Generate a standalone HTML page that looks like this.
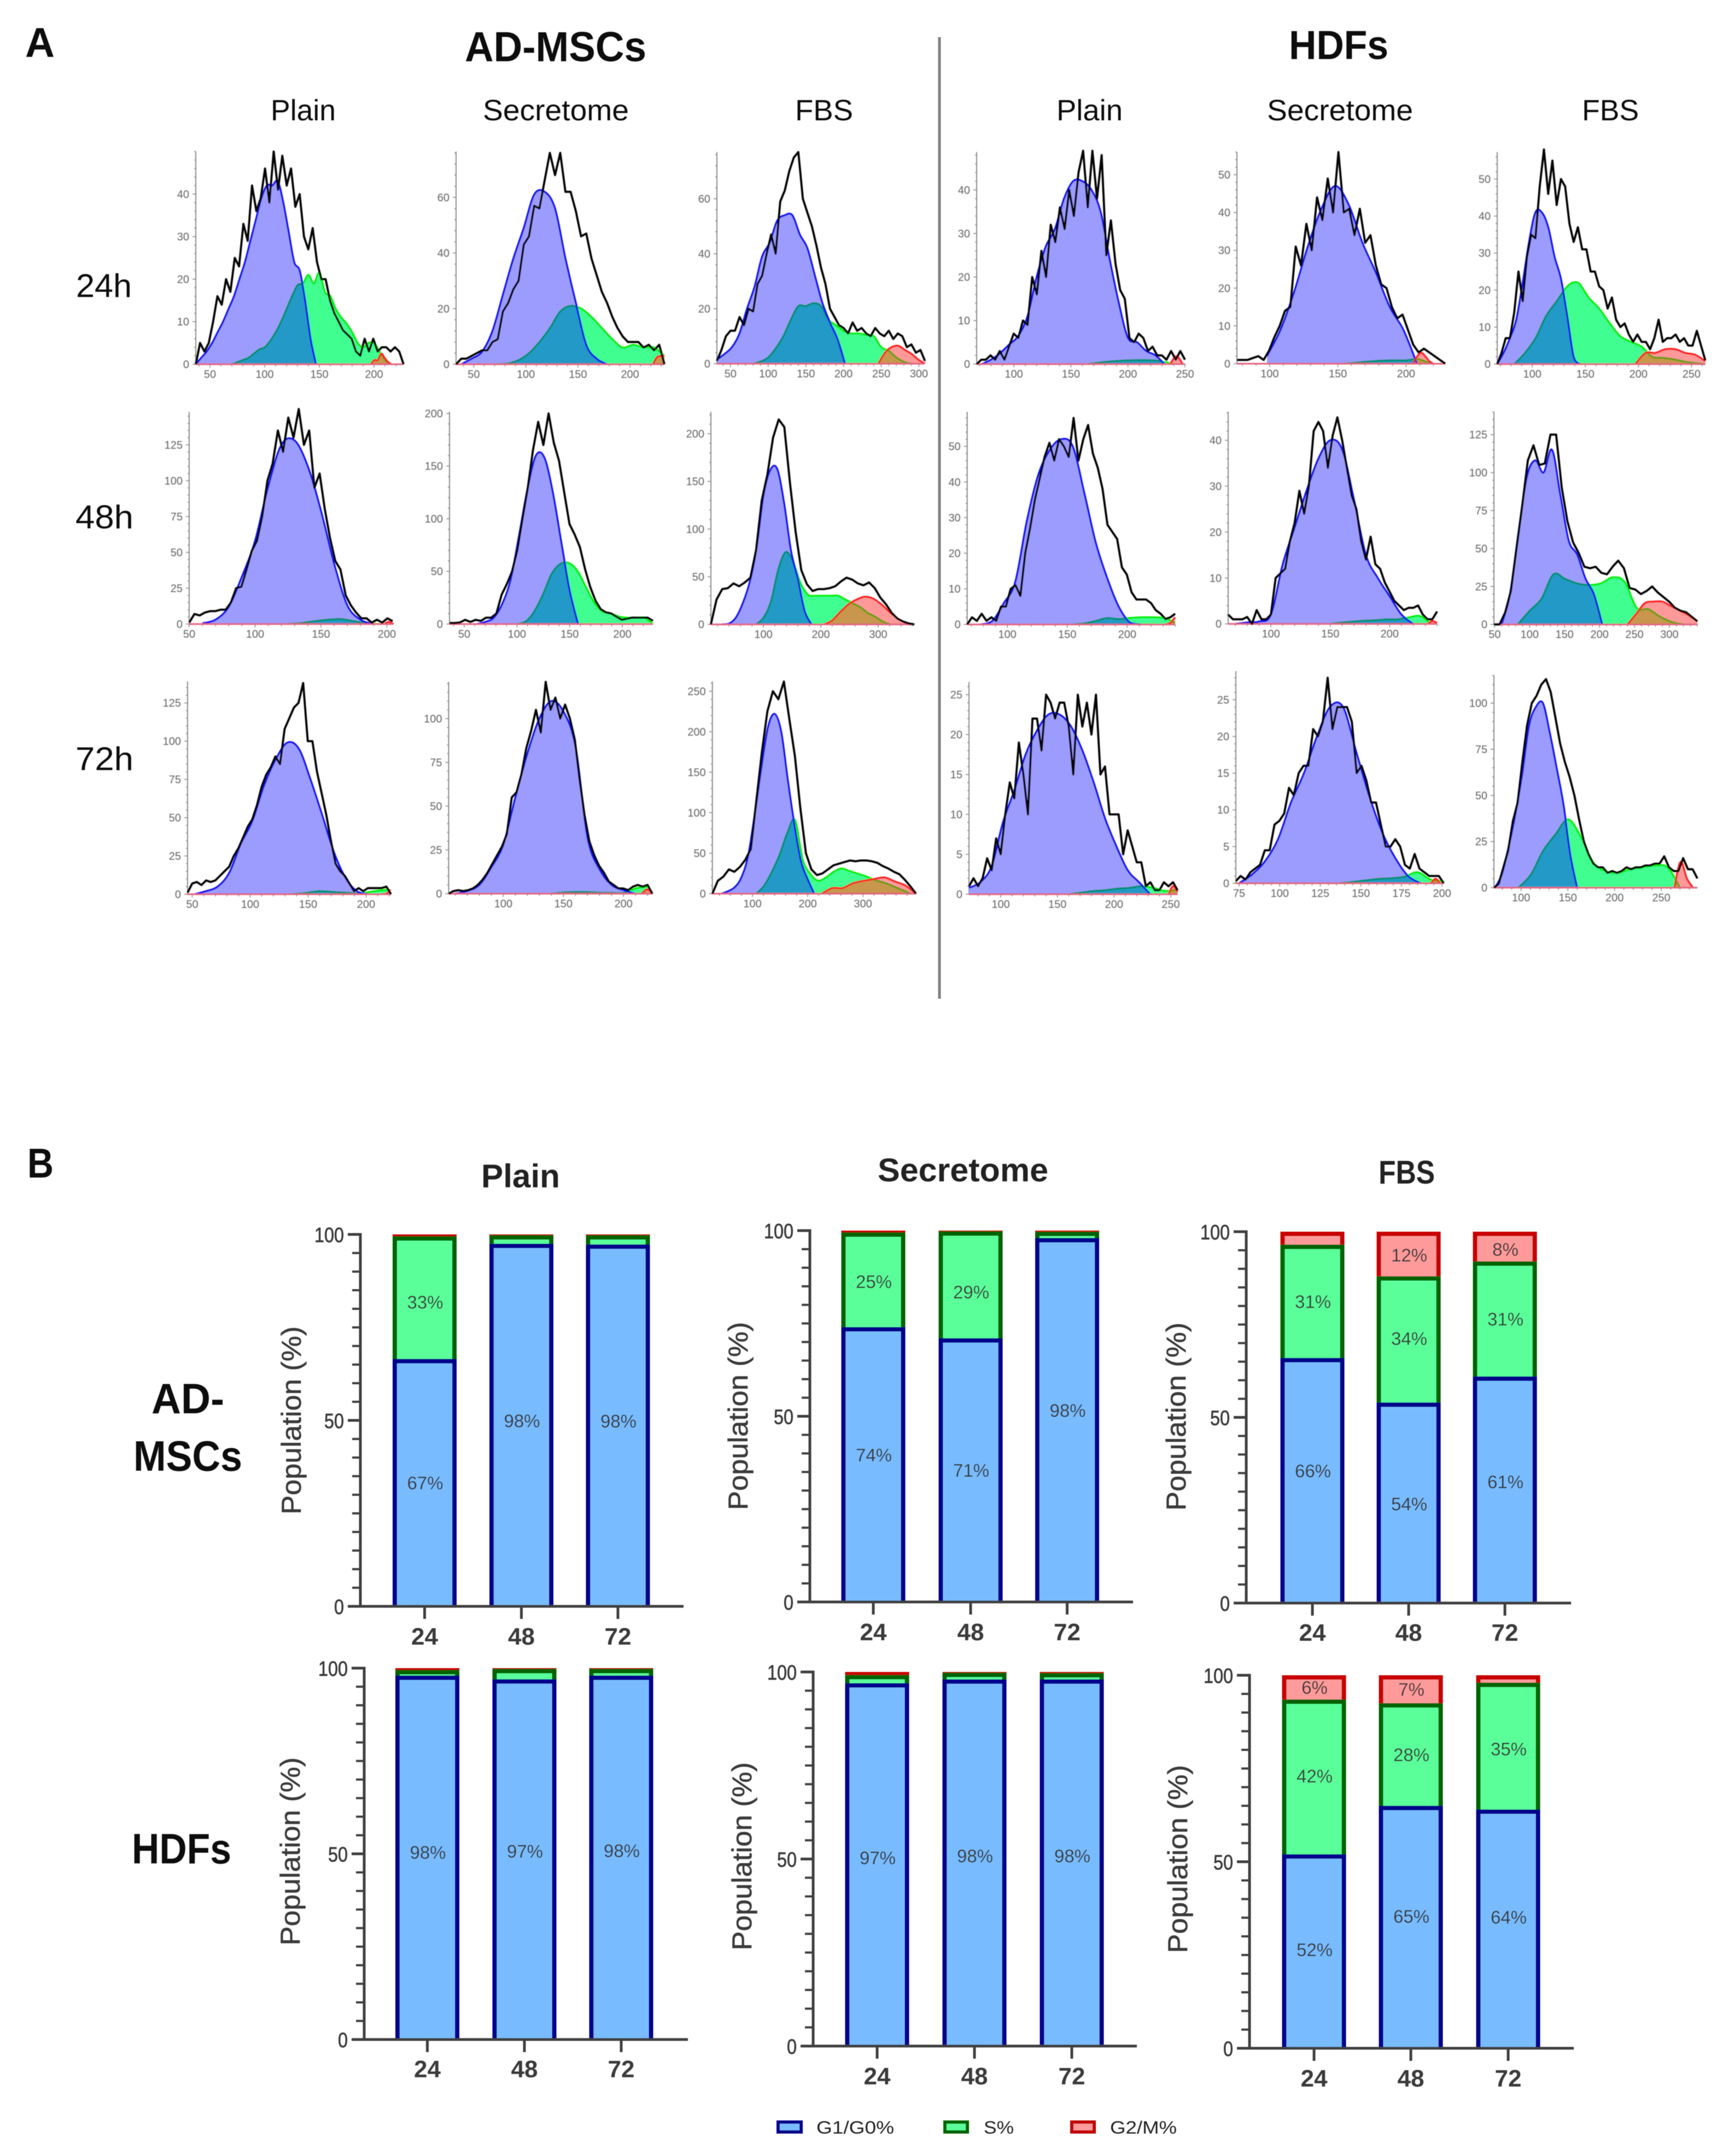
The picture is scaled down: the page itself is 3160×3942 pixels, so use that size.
<!DOCTYPE html>
<html lang="en">
<head>
<meta charset="utf-8">
<title>Cell cycle analysis of AD-MSCs and HDFs</title>
<style>
html,body{margin:0;padding:0;background:#fff;}
svg{display:block;}
text{font-family:"Liberation Sans",sans-serif;}
</style>
</head>
<body>
<svg id="figure" xmlns="http://www.w3.org/2000/svg" width="3160" height="3942" viewBox="0 0 3160 3942">
<defs>
<filter id="soft" x="-5%" y="-5%" width="110%" height="110%"><feGaussianBlur stdDeviation="0.9"/></filter>
<filter id="softer" x="-5%" y="-5%" width="110%" height="110%"><feGaussianBlur stdDeviation="0.6"/></filter>
</defs>
<rect width="3160" height="3942" fill="#fff"/>
<g filter="url(#softer)" fill="#111">
<text x="46" y="104" font-size="76" font-weight="700" textLength="54" lengthAdjust="spacingAndGlyphs">A</text>
<text x="50" y="2153" font-size="76" font-weight="700" textLength="48" lengthAdjust="spacingAndGlyphs">B</text>
<text x="850" y="112" font-size="77" font-weight="700" textLength="332" lengthAdjust="spacingAndGlyphs">AD-MSCs</text>
<text x="2357" y="108" font-size="74" font-weight="700" textLength="182" lengthAdjust="spacingAndGlyphs">HDFs</text>
<text x="495" y="220" font-size="54" textLength="119" lengthAdjust="spacingAndGlyphs">Plain</text>
<text x="883" y="220" font-size="54" textLength="267" lengthAdjust="spacingAndGlyphs">Secretome</text>
<text x="1454" y="220" font-size="54" textLength="106" lengthAdjust="spacingAndGlyphs">FBS</text>
<text x="1932" y="220" font-size="54" textLength="121" lengthAdjust="spacingAndGlyphs">Plain</text>
<text x="2317" y="220" font-size="54" textLength="267" lengthAdjust="spacingAndGlyphs">Secretome</text>
<text x="2893" y="220" font-size="54" textLength="104" lengthAdjust="spacingAndGlyphs">FBS</text>
<text x="139" y="543" font-size="60" textLength="102" lengthAdjust="spacingAndGlyphs">24h</text>
<text x="138" y="966" font-size="60" textLength="106" lengthAdjust="spacingAndGlyphs">48h</text>
<text x="138" y="1408" font-size="60" textLength="106" lengthAdjust="spacingAndGlyphs">72h</text>
<text x="880" y="2171" font-size="60" font-weight="700" fill="#222" textLength="144" lengthAdjust="spacingAndGlyphs">Plain</text>
<text x="1605" y="2160" font-size="60" font-weight="700" fill="#222" textLength="312" lengthAdjust="spacingAndGlyphs">Secretome</text>
<text x="2521" y="2164" font-size="60" font-weight="700" fill="#222" textLength="103" lengthAdjust="spacingAndGlyphs">FBS</text>
<text x="277" y="2584" font-size="78" font-weight="700" textLength="133" lengthAdjust="spacingAndGlyphs">AD-</text>
<text x="244" y="2689" font-size="78" font-weight="700" textLength="199" lengthAdjust="spacingAndGlyphs">MSCs</text>
<text x="241" y="3407" font-size="78" font-weight="700" textLength="182" lengthAdjust="spacingAndGlyphs">HDFs</text>
</g>
<rect x="1715.5" y="68" width="5" height="1758" fill="#808080"/>
<g id="histograms"></g>
<g id="bars"></g>
<g filter="url(#softer)">
<g>
<rect x="1423" y="3880" width="42" height="18" fill="#78bcff" stroke="#00008b" stroke-width="6"/>
<text x="1493" y="3901" font-size="32" fill="#222" textLength="142" lengthAdjust="spacingAndGlyphs">G1/G0%</text>
</g>
<g>
<rect x="1728" y="3880" width="41" height="18" fill="#5aff9a" stroke="#006400" stroke-width="6"/>
<text x="1799" y="3901" font-size="32" fill="#222" textLength="55" lengthAdjust="spacingAndGlyphs">S%</text>
</g>
<g>
<rect x="1960" y="3880" width="41" height="18" fill="#ff9a9a" stroke="#c00000" stroke-width="6"/>
<text x="2030" y="3901" font-size="32" fill="#222" textLength="122" lengthAdjust="spacingAndGlyphs">G2/M%</text>
</g>
</g>
</svg>
<script>
// ===== Panel A histogram data (cell counts) =====
const adPlain24Total=[0,5,3,5,10,16,14,20,17,25,23,33,29,42,36,39,46,38,50,41,49,42,46,37,40,30,27,32,24,20,20,15,12,10,8,7,6,3,2,6,3,6,3,4,4,3,4,3,0];
const adPlain24G1=[0,1.5,3,5,7.5,10,13,16,20,24,29,34,39,42,42,43,38,31,24,22,15,6,0];
const adPlain24G1Span=[37,147];
const adPlain24S=[0,.5,1,1.5,2.5,3.5,4,5.5,7.5,10,13,16,18.6,19,21,19,21.5,17,16,13,11,9.5,7.5,5,4,5,5,3,1,0];
const adPlain24SSpan=[70,215];
const adPlain24G2=[0,1,1,2.5,1.5,.5,0];
const adPlain24G2Span=[197,216];

const adSec24Total=[0,2,2,3,4,5,5,8,9,19,22,27,30,43,46,57,56,66,76,68,76,62,62,55,46,47,38,32,26,22,17,13,10,8,8,8,6,7,5,7,0];
const adSec24G1=[0,2,4.5,12,25,38,49,61,62,56,38,22,7,2,0];
const adSec24G1Span=[38,178];
const adSec24S=[0,.3,1.5,4,8,13,19,21,20,17,13,9,6,7,6,6,3];
const adSec24SSpan=[73,233];
const adSec24G2=[0,2.5,3,3];
const adSec24G2Span=[222,233];

const adFbs24Total=[1,5,10,12,12,17,14,20,19,29,32,40,47,40,59,63,70,75,77,60,55,50,43,35,29,20,17,14,13,11,15,12,13,11,10,13,11,10,12,9,11,10,6,7,4,5,1];
const adFbs24G1=[1.5,3.5,6,11,20,28,39,44,52,54,54,47,42,32,22,15,9,0];
const adFbs24G1Span=[32,202];
const adFbs24S=[0,.8,2.3,5.6,10,16,21,21,22,21,16,14,12,11,11,10.5,10,6,4.7,2.3,.7,0];
const adFbs24SSpan=[80,290];
const adFbs24G2=[0,4,6,6.5,5,3.5,1.5,0];
const adFbs24G2Span=[246,308];

const hdfPlain24Total=[0,1,1,2,1,3,1,4,7,6,10,9,20,16,26,20,32,28,36,31,40,34,44,49,36,49,38,48,25,33,23,17,15,6,5,7,6,3,4,2,2,1,3,1,3,1];
const hdfPlain24G1=[0,1,2.5,4.5,6.5,11,20,27,31,38,42,42,40,35,24,14,6,5,3,2,0];
const hdfPlain24G1Span=[72,232];
const hdfPlain24S=[0,.5,.8,.9,.8,0];
const hdfPlain24SSpan=[165,240];
const hdfPlain24G2=[0,1.8,0];
const hdfPlain24G2Span=[237,248];

const hdfSec24Total=[1,1,1,1.5,2,1,3.4,7,10,14,15,31,26,37,30,44,38,49,40,56,40,41,34,41,32,34,26,21,20,15,12,13,9,5,3,4,3,2,1,0];
const hdfSec24G1=[2,9,19,31,41,47,42,32,24,15,9,0];
const hdfSec24G1Span=[98,208];
const hdfSec24S=[0,.3,.6,.8,.9,.9,1.2,0];
const hdfSec24SSpan=[155,218];
const hdfSec24G2=[0,1.8,2.9,2,.7,0];
const hdfSec24G2Span=[205,220];

const hdfFbs24Total=[0,3,7,7,14,25,17,29,35,34,48,58,46,55,43,50,48,38,33,37,31,31,25,25,21,20,15,18,12,10,11,8,6,8,6,6,4,7,12,6,7,7,8,6,7,5,5,9,5,1];
const hdfFbs24G1=[0,3,7,12,22,33,41,41,37,29,23,13,2,0];
const hdfFbs24G1Span=[67,145];
const hdfFbs24S=[0,3,7,13,17,21,22,18,15,11,7.5,6,4.7,2,1.7,1.3,.7,.3,0];
const hdfFbs24SSpan=[83,263];
const hdfFbs24G2=[0,3,3,4,4,3,2.5,.8];
const hdfFbs24G2Span=[197,263];

const adPlain48Total=[1,7,6,8,9,9,10,10,15,25,26,38,51,58,75,100,112,135,120,144,130,150,125,135,95,105,80,60,44,38,20,13,8,4,4,1,3,1,4,2];
const adPlain48G1=[.5,3,12,33,58,96,125,128,110,79,42,13,3,0];
const adPlain48G1Span=[60,190];
const adPlain48S=[0,.7,2,3,3.5,2,.6,0];
const adPlain48SSpan=[125,195];
const adPlain48G2=[0,1.5,0];
const adPlain48G2Span=[198,205];

const adSec48Total=[1,1,1.5,4,2,4,3,6,6,10,28,38,50,70,100,129,165,192,170,200,172,155,125,95,85,73,52,35,22,14,11,10,7,4,5,6,6,6,6,3];
const adSec48G1=[0,2,6,19,42,84,128,160,158,125,78,32,0];
const adSec48G1Span=[62,158];
const adSec48S=[0,3,13,29,48,57,58,51,36,21,12,10,7,6,6,6,0];
const adSec48SSpan=[101,229];
const adSec48G2=[];
const adSec48G2Span=[229,229];

const adFbs48Total=[0,26,37,38,43,40,44,49,78,130,157,196,215,207,148,97,57,42,35,37,37,38,40,45,49,47,43,41,44,38,28,21,12,6,3,1,0];
const adFbs48G1=[0,.8,7,22,44,80,135,162,163,127,77,48,14,0];
const adFbs48G1Span=[28,184];
const adFbs48S=[0,7,24,58,76,65,43,31,30,30,30,30,26,22,18,12,8,3,0];
const adFbs48SSpan=[87,321];
const adFbs48G2=[0,4,13,21,26,29,27,21,13,6,1.5,0];
const adFbs48G2Span=[205,363];

const hdfPlain48Total=[0,2,1,3,1,2,1,5,5,10,11,8,20,27,35,41,47,51,46,52,50,47,58,46,52,56,48,44,38,28,26,24,16,14,9,7,7,7,6,4,3,1.5,2,3];
const hdfPlain48G1=[0,1,6,12,29,42,49,52,50,37,23,13,5,.5,0];
const hdfPlain48G1Span=[78,212];
const hdfPlain48S=[0,.3,1,1.8,1.5,1.8,2,2,1.8,.5];
const hdfPlain48SSpan=[155,240];
const hdfPlain48G2=[0,.5,2];
const hdfPlain48G2Span=[232,240];

const hdfSec48Total=[2,1,1,1,1.5,0,3,1,1,2,10,11,12,18,22,29,24,30,42,44,42,34,41,45,40,34,28,25,18,14,19,13,12,9,7,5,4,3,3.5,3.5,4,2,1,1,2.7];
const hdfSec48G1=[0,.3,.5,2,13,21,29,36,40,38,27,15,10,6,2,0];
const hdfSec48G1Span=[70,220];
const hdfSec48S=[0,.3,.5,.7,.8,1,1,1.4,1.7,0];
const hdfSec48SSpan=[150,235];
const hdfSec48G2=[0,.6,.2];
const hdfSec48G2Span=[232,240];

const hdfFbs48Total=[0,0,8,22,50,78,108,118,105,106,125,125,90,68,54,47,38,37,38,34,33,38,42,37,24,23,20,22,25,21,18,15,11,9,8,5,2];
const hdfFbs48G1=[0,20,60,97,108,100,115,85,55,46,30,20,0];
const hdfFbs48G1Span=[60,204];
const hdfFbs48S=[0,9,17,33,30,27,26,27,31,28,11,10,5,1.5,0];
const hdfFbs48SSpan=[83,321];
const hdfFbs48G2=[0,7,14,15,15,12,9,6,2];
const hdfFbs48G2Span=[240,340];

const adPlain72Total=[1,7,8,6,9,8,9,12,15,18,25,30,37,44,49,58,70,78,83,90,85,108,115,122,125,138,100,100,80,66,52,35,20,15,12,7,2,4,2,4,4,4,4,5,0];
const adPlain72G1=[0,2,5,14,33,48,71,88,99,95,75,52,28,11,2,0];
const adPlain72G1Span=[52,202];
const adPlain72S=[0,.7,2,1.5,1,.5,2,3];
const adPlain72SSpan=[135,219];
const adPlain72G2=[0,.5,3];
const adPlain72G2Span=[214,221];

const adSec72Total=[0,1.5,2,1.5,2,3,5,8,12,17,22,27,34,55,58,68,83,93,105,92,121,105,112,100,108,100,88,65,45,30,22,16,12,7,5,3,3,2,4,5,4,5,0];
const adSec72G1=[0,1.5,5,15,28,55,80,100,110,104,84,32,14,5,2,0];
const adSec72G1Span=[60,210];
const adSec72S=[0,.7,1,.9,.6,.5,.5,3,4];
const adSec72SSpan=[140,220];
const adSec72G2=[0,2.5,0];
const adSec72G2Span=[215,224];

const adFbs72Total=[0,16,21,30,27,33,42,55,115,175,225,250,240,262,215,170,105,50,30,23,25,30,35,37,39,41,40,41,41,40,38,34,31,27,24,17,9,0];
const adFbs72G1=[0,3,8,20,46,97,155,205,222,200,140,85,40,18,0];
const adFbs72G1Span=[44,212];
const adFbs72S=[0,10,27,48,75,91,42,24,16,20,27,31,28,25,22,18,15,12,8,4,0];
const adFbs72SSpan=[107,387];
const adFbs72G2=[0,7,7,13,16,18,20,15,10,0];
const adFbs72G2Span=[225,396];

const hdfPlain72Total=[1,2,1,2,4.5,3,7,5,10,14,12,19,15,10,22,22,18,25,24,22,24,24,21,15,25,21,24,20,25,15,16,10,10,10,5,8,6,4,4,1,1.5,.5,.5,1.5,1,1.5,.5];
const hdfPlain72G1=[.8,1.5,3.5,9,13,17.5,20.5,22.5,22.5,21,18,14,9.5,6,3,1.5,0];
const hdfPlain72G1Span=[72,232];
const hdfPlain72S=[0,.2,.4,.5,.7,.8,1,.8,.4,.6];
const hdfPlain72SSpan=[160,256];
const hdfPlain72G2=[0,1,.3];
const hdfPlain72G2Span=[248,256];

const hdfSec72Total=[.3,1,.5,1.5,2,2.5,4.5,4.5,8,8.5,9.5,13,12,15,16,16,21,20,22,28,21,24,24,24,22,15,16,14,11,11,8,5,5,6,5,2.5,2,4,2,1.5,1,1,1,0];
const hdfSec72G1=[0,1.2,3,6,11,15,20,24,24,18,12,7,3.5,1,0];
const hdfSec72G1Span=[75,187];
const hdfSec72S=[0,.2,.4,.6,.7,.9,1.5,.5,.3];
const hdfSec72SSpan=[137,201];
const hdfSec72G2=[0,.6,0];
const hdfSec72G2Span=[193,199];

const hdfFbs72Total=[0,2,11,20,36,46,68,88,100,104,110,113,106,92,78,68,60,50,37,25,18,13,11,11,8,9,8,9,11,10,11,11,12,12,13,13,17,11,9,9,16,10,10,5];
const hdfFbs72G1=[0,7,22,40,62,88,98,100,84,65,45,18,0];
const hdfFbs72G1Span=[72,160];
const hdfFbs72S=[0,7,20,29,37,28,14,9,8,10,11,12,11,0];
const hdfFbs72SSpan=[97,270];
const hdfFbs72G2=[0,14,5,0];
const hdfFbs72G2Span=[264,284];

// ===== Panel A axis tick labels =====
const ticksX50to200=[50,100,150,200];
const ticksX50to300=[50,100,150,200,250,300];
const ticksX100to250=[100,150,200,250];
const ticksX100to200=[100,150,200];
const ticksX100to300=[100,200,300];
const ticksX50to300b=[50,100,150,200,250,300];
const ticksX75to200=[75,100,125,150,175,200];
const ticksY10=[0,10,20,30,40];
const ticksY10to50=[0,10,20,30,40,50];
const ticksY20=[0,20,40,60];
const ticksY25to125=[0,25,50,75,100,125];
const ticksY25to100=[0,25,50,75,100];
const ticksY50to200=[0,50,100,150,200];
const ticksY50to250=[0,50,100,150,200,250];
const ticksY5to25=[0,5,10,15,20,25];

const panels=[
{n:'ad-plain-24h',l:358,r:738,b:666,t:277,x0:37,x1:227,yM:50,xT:ticksX50to200,yT:ticksY10,tot:adPlain24Total,g1:adPlain24G1,g1S:adPlain24G1Span,s:adPlain24S,sS:adPlain24SSpan,g2:adPlain24G2,g2S:adPlain24G2Span},
{n:'ad-secretome-24h',l:834,r:1215,b:666,t:277,x0:33,x1:233,yM:76.5,xT:ticksX50to200,yT:ticksY20,tot:adSec24Total,g1:adSec24G1,g1S:adSec24G1Span,s:adSec24S,sS:adSec24SSpan,g2:adSec24G2,g2S:adSec24G2Span},
{n:'ad-fbs-24h',l:1311,r:1691.5,b:665,t:278,x0:32,x1:308,yM:77,xT:ticksX50to300,yT:ticksY20,tot:adFbs24Total,g1:adFbs24G1,g1S:adFbs24G1Span,s:adFbs24S,sS:adFbs24SSpan,g2:adFbs24G2,g2S:adFbs24G2Span},
{n:'hdf-plain-24h',l:1786,r:2167,b:665.7,t:278,x0:67.4,x1:250,yM:48.7,xT:ticksX100to250,yT:ticksY10,tot:hdfPlain24Total,g1:hdfPlain24G1,g1S:hdfPlain24G1Span,s:hdfPlain24S,sS:hdfPlain24SSpan,g2:hdfPlain24G2,g2S:hdfPlain24G2Span},
{n:'hdf-secretome-24h',l:2262,r:2643,b:665,t:278,x0:76,x1:228.8,yM:56,xT:ticksX100to200,yT:ticksY10to50,tot:hdfSec24Total,g1:hdfSec24G1,g1S:hdfSec24G1Span,s:hdfSec24S,sS:hdfSec24SSpan,g2:hdfSec24G2,g2S:hdfSec24G2Span},
{n:'hdf-fbs-24h',l:2738,r:3118.5,b:665.7,t:278,x0:67,x1:263,yM:57.3,xT:ticksX100to250,yT:ticksY10to50,tot:hdfFbs24Total,g1:hdfFbs24G1,g1S:hdfFbs24G1Span,s:hdfFbs24S,sS:hdfFbs24SSpan,g2:hdfFbs24G2,g2S:hdfFbs24G2Span},
{n:'ad-plain-48h',l:346,r:718,b:1141,t:753,x0:50,x1:204.4,yM:148,xT:ticksX50to200,yT:ticksY25to125,tot:adPlain48Total,g1:adPlain48G1,g1S:adPlain48G1Span,s:adPlain48S,sS:adPlain48SSpan,g2:adPlain48G2,g2S:adPlain48G2Span},
{n:'ad-secretome-48h',l:822,r:1194,b:1141,t:753,x0:36,x1:229,yM:201.5,xT:ticksX50to200,yT:ticksY50to200,tot:adSec48Total,g1:adSec48G1,g1S:adSec48G1Span,s:adSec48S,sS:adSec48SSpan,g2:adSec48G2,g2S:adSec48G2Span},
{n:'ad-fbs-48h',l:1300,r:1672,b:1141.6,t:753,x0:8.4,x1:363,yM:223,xT:ticksX100to300,yT:ticksY50to200,tot:adFbs48Total,g1:adFbs48G1,g1S:adFbs48G1Span,s:adFbs48S,sS:adFbs48SSpan,g2:adFbs48G2,g2S:adFbs48G2Span},
{n:'hdf-plain-48h',l:1768.7,r:2149,b:1141.7,t:753,x0:66.5,x1:240,yM:59.7,xT:ticksX100to200,yT:ticksY10to50,tot:hdfPlain48Total,g1:hdfPlain48G1,g1S:hdfPlain48G1Span,s:hdfPlain48S,sS:hdfPlain48SSpan,g2:hdfPlain48G2,g2S:hdfPlain48G2Span},
{n:'hdf-secretome-48h',l:2246,r:2628,b:1140.7,t:753,x0:64,x1:240,yM:46.2,xT:ticksX100to200,yT:ticksY10,tot:hdfSec48Total,g1:hdfSec48G1,g1S:hdfSec48G1Span,s:hdfSec48S,sS:hdfSec48SSpan,g2:hdfSec48G2,g2S:hdfSec48G2Span},
{n:'hdf-fbs-48h',l:2732,r:3104,b:1141.7,t:753,x0:49,x1:340,yM:140,xT:ticksX50to300b,yT:ticksY25to125,tot:hdfFbs48Total,g1:hdfFbs48G1,g1S:hdfFbs48G1Span,s:hdfFbs48S,sS:hdfFbs48SSpan,g2:hdfFbs48G2,g2S:hdfFbs48G2Span},
{n:'ad-plain-72h',l:343,r:715,b:1635,t:1246,x0:46,x1:221.5,yM:139,xT:ticksX50to200,yT:ticksY25to125,tot:adPlain72Total,g1:adPlain72G1,g1S:adPlain72G1Span,s:adPlain72S,sS:adPlain72SSpan,g2:adPlain72G2,g2S:adPlain72G2Span},
{n:'ad-secretome-72h',l:820.5,r:1193,b:1634,t:1246.7,x0:54.5,x1:224,yM:121,xT:ticksX100to200,yT:ticksY25to100,tot:adSec72Total,g1:adSec72G1,g1S:adSec72G1Span,s:adSec72S,sS:adSec72SSpan,g2:adSec72G2,g2S:adSec72G2Span},
{n:'ad-fbs-72h',l:1302.7,r:1675,b:1634,t:1246,x0:27.4,x1:396,yM:262,xT:ticksX100to300,yT:ticksY50to250,tot:adFbs72Total,g1:adFbs72G1,g1S:adFbs72G1Span,s:adFbs72S,sS:adFbs72SSpan,g2:adFbs72G2,g2S:adFbs72G2Span},
{n:'hdf-plain-72h',l:1772,r:2153.4,b:1635,t:1246.7,x0:72,x1:256,yM:26.6,xT:ticksX100to250,yT:ticksY5to25,tot:hdfPlain72Total,g1:hdfPlain72G1,g1S:hdfPlain72G1Span,s:hdfPlain72S,sS:hdfPlain72SSpan,g2:hdfPlain72G2,g2S:hdfPlain72G2Span},
{n:'hdf-secretome-72h',l:2260,r:2640,b:1615,t:1227,x0:73,x1:201,yM:28.9,xT:ticksX75to200,yT:ticksY5to25,tot:hdfSec72Total,g1:hdfSec72G1,g1S:hdfSec72G1Span,s:hdfSec72S,sS:hdfSec72SSpan,g2:hdfSec72G2,g2S:hdfSec72G2Span},
{n:'hdf-fbs-72h',l:2732,r:3104,b:1623,t:1235,x0:71,x1:288.6,yM:115,xT:ticksX100to250,yT:ticksY25to100,tot:hdfFbs72Total,g1:hdfFbs72G1,g1S:hdfFbs72G1Span,s:hdfFbs72S,sS:hdfFbs72SSpan,g2:hdfFbs72G2,g2S:hdfFbs72G2Span}
];

// ===== Panel B bar chart data (percent per time point) =====
const timepoints=['24','48','72'];
const barYTicks=[0,50,100];
const adPlainG1=[66.5,97.5,97.3];
const adPlainS=[33,2.3,2.5];
const adPlainG2=[.5,.2,.2];
const adPlainG1Labels=['67%','98%','98%'];
const adPlainSLabels=['33%','',''];
const adPlainG2Labels=['','',''];
const adSecG1=[74,71,98];
const adSecS=[25.5,28.8,1.7];
const adSecG2=[.5,.2,.3];
const adSecG1Labels=['74%','71%','98%'];
const adSecSLabels=['25%','29%',''];
const adSecG2Labels=['','',''];
const adFbsG1=[66,54,61];
const adFbsS=[30.5,34,31];
const adFbsG2=[3.5,12,8];
const adFbsG1Labels=['66%','54%','61%'];
const adFbsSLabels=['31%','34%','31%'];
const adFbsG2Labels=['','12%','8%'];
const hdfPlainG1=[98,97,98];
const hdfPlainS=[1.5,2.8,1.8];
const hdfPlainG2=[.5,.2,.2];
const hdfPlainG1Labels=['98%','97%','98%'];
const hdfPlainSLabels=['','',''];
const hdfPlainG2Labels=['','',''];
const hdfSecG1=[97,98,98];
const hdfSecS=[2.2,1.8,1.7];
const hdfSecG2=[.8,.2,.3];
const hdfSecG1Labels=['97%','98%','98%'];
const hdfSecSLabels=['','',''];
const hdfSecG2Labels=['','',''];
const hdfFbsG1=[52,65,64];
const hdfFbsS=[41.5,27.5,34];
const hdfFbsG2=[6.5,7.5,2];
const hdfFbsG1Labels=['52%','65%','64%'];
const hdfFbsSLabels=['42%','28%','35%'];
const hdfFbsG2Labels=['6%','7%',''];

const barCharts=[
{n:'ad-plain',ax:659,right:1250,top:2257,base:2937,cx:[776.5,953.5,1130],tx:550,ty:2597,lab:3007,g1:adPlainG1,s:adPlainS,g2:adPlainG2,g1L:adPlainG1Labels,sL:adPlainSLabels,g2L:adPlainG2Labels,g1N:[0,-8,-8],sN:[8,0,0],g2N:[0,0,0]},
{n:'ad-secretome',ax:1481,right:2072,top:2250,base:2929,cx:[1597,1775,1951.5],tx:1367,ty:2589,lab:2999,g1:adSecG1,s:adSecS,g2:adSecG2,g1L:adSecG1Labels,sL:adSecSLabels,g2L:adSecG2Labels,g1N:[-18,0,-18],sN:[3,13,0],g2N:[0,0,0]},
{n:'ad-fbs',ax:2279,right:2873,top:2252,base:2931,cx:[2400,2576,2752],tx:2168,ty:2590,lab:3000,g1:adFbsG1,s:adFbsS,g2:adFbsG2,g1L:adFbsG1Labels,sL:adFbsSLabels,g2L:adFbsG2Labels,g1N:[-18,2,-15],sN:[0,-2,0],g2N:[0,2,5]},
{n:'hdf-plain',ax:666,right:1258,top:3050,base:3729,cx:[781.5,959,1136],tx:548,ty:3385,lab:3798,g1:hdfPlainG1,s:hdfPlainS,g2:hdfPlainG2,g1L:hdfPlainG1Labels,sL:hdfPlainSLabels,g2L:hdfPlainG2Labels,g1N:[-10,-15,-13],sN:[0,0,0],g2N:[0,0,0]},
{n:'hdf-secretome',ax:1487,right:2079,top:3057,base:3741,cx:[1604,1782,1960],tx:1374,ty:3394,lab:3811,g1:hdfSecG1,s:hdfSecS,g2:hdfSecG2,g1L:hdfSecG1Labels,sL:hdfSecSLabels,g2L:hdfSecG2Labels,g1N:[-13,-13,-13],sN:[0,0,0],g2N:[0,0,0]},
{n:'hdf-fbs',ax:2285,right:2878,top:3063,base:3745,cx:[2403,2580,2758],tx:2171,ty:3399,lab:3815,g1:hdfFbsG1,s:hdfFbsS,g2:hdfFbsG2,g1L:hdfFbsG1Labels,sL:hdfFbsSLabels,g2L:hdfFbsG2Labels,g1N:[-3,-20,-22],sN:[-2,0,5],g2N:[0,0,0]}
];

const NS='http://www.w3.org/2000/svg';
function mk(parent,tag,attrs){
  const e=document.createElementNS(NS,tag);
  for(const k in attrs){e.setAttribute(k,attrs[k]);}
  parent.appendChild(e);
  return e;
}
function samplePoints(values,span){
  const last=Math.max(values.length-1,1);
  return values.map((v,i)=>[span[0]+i*(span[1]-span[0])/last,v]);
}
function linePath(pts,xs,ys){
  return pts.map((p,i)=>(i?'L':'M')+xs(p[0]).toFixed(1)+' '+ys(p[1]).toFixed(1)).join('');
}
// Rounded curve through the fitted-model samples (the fit lines are smooth in the reference)
function curvePath(pts,xs,ys){
  if(!pts.length){return '';}
  const q=pts.map(p=>[xs(p[0]),ys(p[1])]);
  const floorY=ys(0);
  let d='M'+q[0][0].toFixed(1)+' '+q[0][1].toFixed(1);
  for(let i=0;i<q.length-1;i++){
    const a=q[Math.max(i-1,0)],b=q[i],c=q[i+1],e=q[Math.min(i+2,q.length-1)];
    const c1x=b[0]+(c[0]-a[0])/6,c1y=Math.min(b[1]+(c[1]-a[1])/6,floorY);
    const c2x=c[0]-(e[0]-b[0])/6,c2y=Math.min(c[1]-(e[1]-b[1])/6,floorY);
    d+='C'+c1x.toFixed(1)+' '+c1y.toFixed(1)+' '+c2x.toFixed(1)+' '+c2y.toFixed(1)+' '+c[0].toFixed(1)+' '+c[1].toFixed(1);
  }
  return d;
}
function areaPath(pts,xs,ys){
  if(!pts.length){return '';}
  return curvePath(pts,xs,ys)+'L'+xs(pts[pts.length-1][0]).toFixed(1)+' '+ys(0).toFixed(1)+'L'+xs(pts[0][0]).toFixed(1)+' '+ys(0).toFixed(1)+'Z';
}

const histRoot=document.getElementById('histograms');
panels.forEach(function(p,idx){
  const xs=d=>p.l+(d-p.x0)*(p.r-p.l)/(p.x1-p.x0);
  const ys=v=>p.b-v*(p.b-p.t)/p.yM;
  const g=mk(histRoot,'g',{filter:'url(#soft)'});
  
  
  const g1P=samplePoints(p.g1,p.g1S), sP=samplePoints(p.s,p.sS), g2P=samplePoints(p.g2,p.g2S), totP=samplePoints(p.tot,[p.x0,p.x1]);
  const g1A=areaPath(g1P,xs,ys), sA=areaPath(sP,xs,ys), g2A=areaPath(g2P,xs,ys);
  const defs=mk(g,'defs',{});
  const c1=mk(defs,'clipPath',{id:'clipG1'+idx});
  mk(c1,'path',{d:g1A});
  const c2=mk(defs,'clipPath',{id:'clipG2'+idx});
  mk(c2,'path',{d:g2A||'M0 0'});

  // axes
  const yAxis=mk(g,'line',{x1:p.l,x2:p.l,y1:p.t,y2:p.b,stroke:'#707070','stroke-width':1.6});
  
  
  const yMinor=(p.yT[1]-p.yT[0])/5;
  for(let v=0;v<=p.yM;v+=yMinor){
    const major=p.yT.some(t=>Math.abs(t-v)<1e-6);
    mk(g,'line',{x1:p.l-(major?6:3),x2:p.l,y1:ys(v),y2:ys(v),stroke:'#808080','stroke-width':1.4});
  }
  const xMinor=(p.xT[1]-p.xT[0])/5;
  for(let v=p.xT[0]-xMinor*Math.floor((p.xT[0]-p.x0)/xMinor);v<=p.x1;v+=xMinor){
    const major=p.xT.some(t=>Math.abs(t-v)<1e-6);
    mk(g,'line',{x1:xs(v),x2:xs(v),y1:p.b,y2:p.b+(major?6:4),stroke:'#808080','stroke-width':1.4});
  }
  p.yT.forEach(function(t){
    const lab=mk(g,'text',{x:p.l-12,y:ys(t)+7,'font-size':20,fill:'#606060','text-anchor':'end'});
    
    
    lab.textContent=t;
  });
  p.xT.forEach(function(t){
    const lab=mk(g,'text',{x:xs(t),y:p.b+25,'font-size':20,fill:'#606060','text-anchor':'middle'});
    
    
    lab.textContent=t;
  });

  // fills
  const fG1=mk(g,'path',{d:g1A,fill:'#9c9cff'});
  
  
  const fS=mk(g,'path',{d:sA,fill:'#40ff90'});
  
  
  if(g2A){
    const fG2=mk(g,'path',{d:g2A,fill:'#ff9999'});
    
    
  }
  mk(g,'path',{d:sA,fill:'#2299c6','clip-path':'url(#clipG1'+idx+')'});
  if(g2A){mk(g,'path',{d:sA,fill:'#c8964e','clip-path':'url(#clipG2'+idx+')'});}

  // outlines
  const sD=curvePath(sP,xs,ys);
  const lS=mk(g,'path',{d:sD,fill:'none',stroke:'#00f000','stroke-width':3.4,'stroke-linejoin':'round'});
  
  
  mk(g,'path',{d:sD,fill:'none',stroke:'#008c78','stroke-width':3.4,'clip-path':'url(#clipG1'+idx+')'});
  if(g2A){mk(g,'path',{d:sD,fill:'none',stroke:'#6f9a10','stroke-width':3.4,'clip-path':'url(#clipG2'+idx+')'});}
  const lG1=mk(g,'path',{d:curvePath(g1P,xs,ys),fill:'none',stroke:'#1010f0','stroke-width':3.4,'stroke-linejoin':'round'});
  
  
  if(g2A){
    const lG2=mk(g,'path',{d:curvePath(g2P,xs,ys),fill:'none',stroke:'#ff1a1a','stroke-width':3.4,'stroke-linejoin':'round'});
    
    
  }
  const baseL=mk(g,'line',{x1:p.l,x2:p.r,y1:p.b,y2:p.b,stroke:'#e4607c','stroke-width':3});
  
  
  const lT=mk(g,'path',{d:linePath(totP,xs,ys),fill:'none',stroke:'#000','stroke-width':3.8,'stroke-linejoin':'round'});
  
  
});

const barRoot=document.getElementById('bars');
const BAR_W=117, BORDER=8;
function segment(g,cx,yTop,yBottom,fill,stroke,name){
  const x1=cx-BAR_W/2+BORDER/2, x2=cx+BAR_W/2-BORDER/2;
  const seg=mk(g,'path',{d:'M'+x1+' '+yBottom+'V'+yTop+'H'+x2+'V'+yBottom,fill:fill,stroke:stroke,'stroke-width':BORDER});
  
  
}
barCharts.forEach(function(c){
  const ys=v=>c.base-v*(c.base-c.top)/100;
  const g=mk(barRoot,'g',{filter:'url(#softer)'});
  
  
  timepoints.forEach(function(tp,i){
    const g1Top=c.g1[i], sTop=c.g1[i]+c.s[i], g2Top=sTop+c.g2[i];
    segment(g,c.cx[i],ys(g2Top)+BORDER/2,ys(sTop)+BORDER,'#ff9a9a','#c80000','bar-g2-'+tp);
    segment(g,c.cx[i],ys(sTop)+BORDER/2,ys(g1Top)+BORDER,'#5aff9a','#006400','bar-s-'+tp);
    segment(g,c.cx[i],ys(g1Top)+BORDER/2,c.base,'#78bcff','#00008b','bar-g1-'+tp);
    [[c.g1L[i],0,g1Top,c.g1N[i]],[c.sL[i],g1Top,sTop,c.sN[i]],[c.g2L[i],sTop,g2Top,c.g2N[i]]].forEach(function(item){
      if(!item[0]){return;}
      const lab=mk(g,'text',{x:c.cx[i]+1,y:ys((item[1]+item[2])/2)+12+item[3],'font-size':33,fill:'#3a3a3a','text-anchor':'middle'});
      
      
      lab.textContent=item[0];
    });
    const tick=mk(g,'line',{x1:c.cx[i],x2:c.cx[i],y1:c.base,y2:c.base+23,stroke:'#404040','stroke-width':5});
    
    
    const xl=mk(g,'text',{x:c.cx[i],y:c.lab,'font-size':44,'font-weight':700,fill:'#3a3a3a','text-anchor':'middle'});
    
    
    xl.textContent=tp;
  });
  const yA=mk(g,'line',{x1:c.ax,x2:c.ax,y1:c.top-2.5,y2:c.base+2.5,stroke:'#404040','stroke-width':5});
  
  
  const xA=mk(g,'line',{x1:c.ax-23,x2:c.right,y1:c.base,y2:c.base,stroke:'#404040','stroke-width':5});
  
  
  for(let v=5;v<100;v+=5){
    if(v===50){continue;}
    mk(g,'line',{x1:c.ax-15,x2:c.ax,y1:ys(v),y2:ys(v),stroke:'#404040','stroke-width':4});
  }
  barYTicks.forEach(function(t){
    mk(g,'line',{x1:c.ax-23,x2:c.ax,y1:ys(t),y2:ys(t),stroke:'#404040','stroke-width':5});
    const s=String(t);
    const yl=mk(g,'text',{x:c.ax-30,y:ys(t)+14,'font-size':38,fill:'#3a3a3a',stroke:'#3a3a3a','stroke-width':.7,'text-anchor':'end',textLength:s.length*18,lengthAdjust:'spacingAndGlyphs'});
    
    
    yl.textContent=s;
  });
  const title=mk(g,'text',{transform:'translate('+c.tx+' '+c.ty+') rotate(-90)',x:0,y:0,'font-size':50,fill:'#3a3a3a',stroke:'#3a3a3a','stroke-width':.6,'text-anchor':'middle',textLength:344,lengthAdjust:'spacingAndGlyphs'});
  
  
  title.textContent='Population (%)';
});
</script>
</body>
</html>
